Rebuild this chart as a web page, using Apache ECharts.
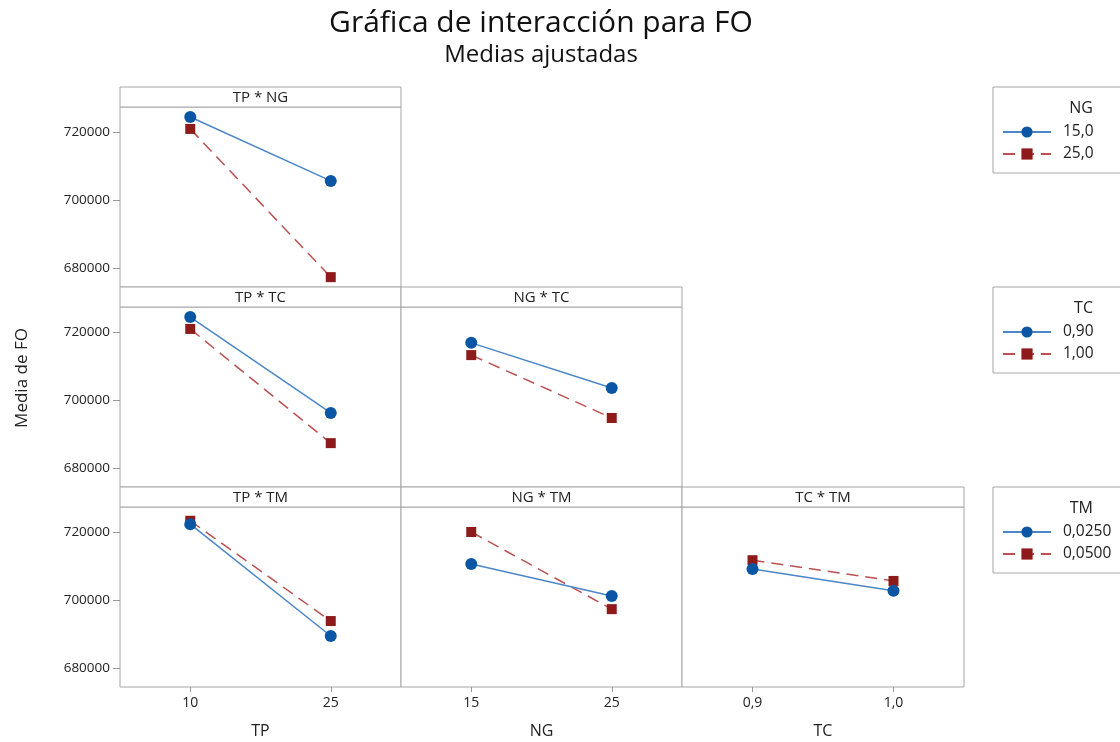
<!DOCTYPE html>
<html>
<head>
<meta charset="utf-8">
<script src="https://cdn.jsdelivr.net/npm/echarts@6/dist/echarts.min.js"></script>
<style>html,body{margin:0;padding:0;background:#fff}#c{width:1120px;height:742px}</style>
</head>
<body>
<div id="c"></div>
<script>
// ---- data ----
const catTP = ['10', '25'];
const catNG = ['15', '25'];
const catTC = ['0,9', '1,0'];
const yTicks = [680000, 700000, 720000];

// TP * NG
const tpng_ng15 = [724400, 705600];
const tpng_ng25 = [720900, 677300];
// TP * TC
const tptc_tc090 = [724400, 696200];
const tptc_tc100 = [720900, 687300];
// NG * TC
const ngtc_tc090 = [716800, 703500];
const ngtc_tc100 = [713200, 694700];
// TP * TM
const tptm_tm0250 = [722300, 689400];
const tptm_tm0500 = [723300, 693800];
// NG * TM
const ngtm_tm0250 = [710600, 701200];
const ngtm_tm0500 = [720000, 697300];
// TC * TM
const tctm_tm0250 = [709100, 702700];
const tctm_tm0500 = [711700, 705600];

const levNG = ['15,0', '25,0'];
const levTC = ['0,90', '1,00'];
const levTM = ['0,0250', '0,0500'];

const panels = [
  {row: 0, col: 0, title: 'TP * NG', cats: catTP, a: tpng_ng15, b: tpng_ng25, lev: levNG},
  {row: 1, col: 0, title: 'TP * TC', cats: catTP, a: tptc_tc090, b: tptc_tc100, lev: levTC},
  {row: 1, col: 1, title: 'NG * TC', cats: catNG, a: ngtc_tc090, b: ngtc_tc100, lev: levTC},
  {row: 2, col: 0, title: 'TP * TM', cats: catTP, a: tptm_tm0250, b: tptm_tm0500, lev: levTM},
  {row: 2, col: 1, title: 'NG * TM', cats: catNG, a: ngtm_tm0250, b: ngtm_tm0500, lev: levTM},
  {row: 2, col: 2, title: 'TC * TM', cats: catTC, a: tctm_tm0250, b: tctm_tm0500, lev: levTM}
];
const xNames = ['TP', 'NG', 'TC'];
const legendTitles = ['NG', 'TC', 'TM'];
const legendLevels = [levNG, levTC, levTM];

// ---- layout ----
const FONT = '"Open Sans", "Noto Sans", sans-serif';
const colLeft = [120, 401, 682];
const colW = [281, 281, 282];
const rowTop = [107, 307, 507];
const rowH = 180;
const stripH = 20;
const YMIN = 674400, YMAX = 727350;
const BORDER = '#a6a6a6';
const BLUE_M = '#0b56a4', BLUE_L = '#4a86c8';
const RED_M = '#8e1a1a', RED_L = '#bd5050';

const grid = [], xAxis = [], yAxis = [], series = [], graphic = [];
panels.forEach((p, i) => {
  const L = colLeft[p.col], T = rowTop[p.row], W = colW[p.col];
  grid.push({left: L, top: T, width: W, height: rowH, show: true, borderColor: BORDER, borderWidth: 1,
    backgroundColor: '#fff', containLabel: false, outerBoundsMode: 'none'});
  const bottomRow = p.row === 2;
  xAxis.push({
    type: 'category', gridIndex: i, data: p.cats, boundaryGap: true,
    axisLine: {show: false},
    axisTick: {show: bottomRow, alignWithLabel: true, length: 5, lineStyle: {color: '#999'}},
    axisLabel: {show: bottomRow, color: '#222', fontFamily: FONT, fontSize: 14, margin: 9},
    name: bottomRow ? xNames[p.col] : '', nameLocation: 'middle', nameGap: 36,
    nameTextStyle: {color: '#222', fontFamily: FONT, fontSize: 16}
  });
  const leftCol = p.col === 0;
  yAxis.push({
    type: 'value', gridIndex: i, min: YMIN, max: YMAX,
    axisLine: {show: false},
    splitLine: {show: false},
    axisTick: {show: leftCol, length: 7, customValues: yTicks, lineStyle: {color: '#999'}},
    axisLabel: {show: leftCol, customValues: yTicks, formatter: v => String(v), color: '#222', fontFamily: FONT, fontSize: 13.5, margin: 10}
  });
  series.push({
    type: 'line', name: p.lev[0], xAxisIndex: i, yAxisIndex: i, data: p.a,
    symbol: 'circle', symbolSize: 12,
    itemStyle: {color: BLUE_M}, lineStyle: {color: BLUE_L, width: 1.5, type: 'solid'},
    z: 3, animation: false
  });
  series.push({
    type: 'line', name: p.lev[1], xAxisIndex: i, yAxisIndex: i, data: p.b,
    symbol: 'rect', symbolSize: 10,
    itemStyle: {color: RED_M}, lineStyle: {color: RED_L, width: 1.5, type: [12, 7]},
    z: 2, animation: false
  });
  // strip header
  graphic.push({
    type: 'rect', shape: {x: L, y: T - stripH, width: W, height: stripH},
    style: {fill: '#fff', stroke: BORDER, lineWidth: 1}, z: 10
  });
  graphic.push({
    type: 'text', x: L + W / 2, y: T - stripH / 2 + 1,
    style: {text: p.title, fill: '#222', font: '15px ' + FONT, textAlign: 'center', textVerticalAlign: 'middle'}, z: 11
  });
});

// legends
const legends = [];
legendTitles.forEach((t, k) => {
  const top = 87 + k * 200;
  graphic.push({
    type: 'rect', shape: {x: 993, y: top, width: 140, height: 86},
    style: {fill: '#fff', stroke: BORDER, lineWidth: 1}, z: 1
  });
  graphic.push({
    type: 'text', x: 1093, y: top + 21,
    style: {text: t, fill: '#222', font: '16px ' + FONT, textAlign: 'right', textVerticalAlign: 'middle'}, z: 2
  });
  legends.push({
    data: legendLevels[k], orient: 'vertical', left: 997, top: top + 32,
    itemWidth: 48, itemHeight: 14, itemGap: 6,
    textStyle: {color: '#222', fontFamily: FONT, fontSize: 15.5, padding: [0, 0, 0, 7]},
    selectedMode: false
  });
});

// title and y name
graphic.push({
  type: 'text', x: 541, y: 23,
  style: {text: 'Gráfica de interacción para FO', fill: '#111', font: '500 30px ' + FONT, textAlign: 'center', textVerticalAlign: 'middle'}
});
graphic.push({
  type: 'text', x: 541, y: 55,
  style: {text: 'Medias ajustadas', fill: '#111', font: '500 24px ' + FONT, textAlign: 'center', textVerticalAlign: 'middle'}
});
graphic.push({
  type: 'text', x: 22, y: 378, rotation: Math.PI / 2,
  style: {text: 'Media de FO', fill: '#222', font: '17px ' + FONT, textAlign: 'center', textVerticalAlign: 'middle'}
});

const chart = echarts.init(document.getElementById('c'), null, {renderer: 'canvas'});
chart.setOption({
  animation: false,
  backgroundColor: '#fff',
  grid, xAxis, yAxis, series, legend: legends, graphic
});
</script>
</body>
</html>
